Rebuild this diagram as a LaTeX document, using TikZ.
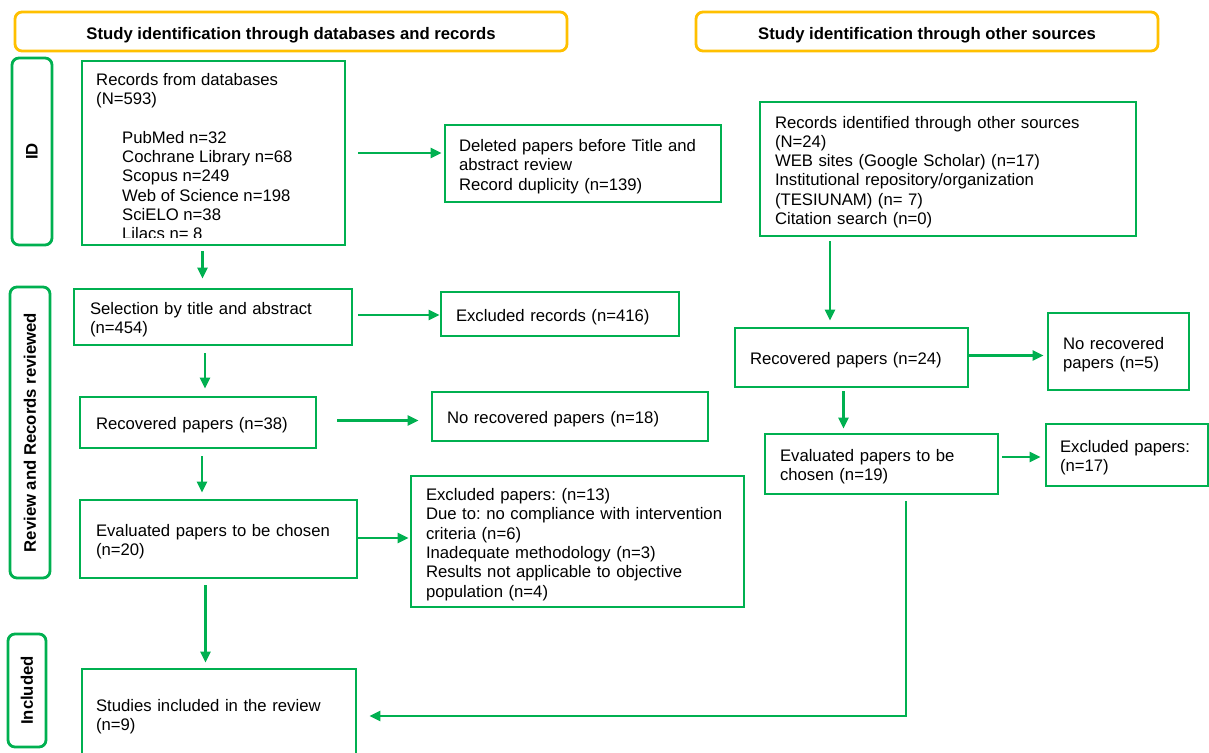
\documentclass[tikz,border=0pt]{standalone}
\usepackage{fontspec}
\setmainfont{Liberation Sans}
\usetikzlibrary{arrows.meta,calc}
\definecolor{pgreen}{RGB}{0,176,80}
\definecolor{pyellow}{RGB}{255,192,0}
\newcommand{\fsz}{\fontsize{16.7}{19.3}\selectfont\frenchspacing}
\begin{document}
\begin{tikzpicture}[x=1pt,y=-1pt,
 box/.style={draw=pgreen, line width=2.8pt, inner xsep=15pt, inner ysep=0pt, align=left, font=\fsz, execute at begin node={\rule{0pt}{18pt}}},
 hdr/.style={draw=pyellow, line width=2.8pt, rounded corners=7pt, font=\fsz\bfseries, inner sep=0pt, execute at begin node={\rule{0pt}{19pt}}},
 side/.style={draw=pgreen, line width=2.8pt, rounded corners=7pt, font=\fsz\bfseries, inner sep=0pt, rotate=90},
 arr/.style={draw=pgreen, line width=2.6pt, -{Triangle[length=11pt,width=10pt]}}]
\useasboundingbox (0,0) rectangle (1209,752);
\fill[white] (0,0) rectangle (1209,752);

% headers
\node[hdr, minimum width=552, minimum height=39] (h1) at (291,31.5) {Study identification through databases and records};
\node[hdr, minimum width=462, minimum height=39] (h2) at (927,31.5) {Study identification through other sources};

% side labels
\node[side, minimum width=187, minimum height=40] (sid) at (32,151.5) {ID};
\node[side, minimum width=291, minimum height=40] (srev) at (30,432.5) {Review and Records reviewed};
\node[side, minimum width=113, minimum height=38] (sinc) at (27,690.5) {Included};

% left column
\node[box, minimum width=263, minimum height=184, inner xsep=0pt] (db) at (213.5,153) {};
\begin{scope}
\clip (82,61) rectangle (345,237);
\node[font=\fsz, align=left, inner sep=0pt, anchor=north west] (dbt) at (96,73) {Records from databases\\(N=593)\\[19.3pt]\hspace*{26pt}PubMed n=32\\\hspace*{26pt}Cochrane Library n=68\\\hspace*{26pt}Scopus n=249\\\hspace*{26pt}Web of Science n=198\\\hspace*{26pt}SciELO n=38\\\hspace*{26pt}Lilacs n= 8};
\end{scope}

\node[box, text width=248, inner xsep=14pt, minimum height=77] (del) at (583,163.5) {Deleted papers before Title and\\abstract review\\Record duplicity (n=139)};

\node[box, text width=246, inner xsep=16pt, minimum height=56] (sel) at (213,317) {Selection by title and abstract\\(n=454)};
\node[box, text width=208, minimum height=44] (exr) at (560,314) {Excluded records (n=416)};

\node[box, text width=204, inner xsep=16pt, minimum height=51] (r38) at (198,422.5) {Recovered papers (n=38)};
\node[box, text width=246, minimum height=49] (nr18) at (570,416.5) {No recovered papers (n=18)};

\node[box, text width=245, inner xsep=16pt, minimum height=78] (ev20) at (218.5,539) {Evaluated papers to be chosen\\(n=20)};
\node[box, text width=303, minimum height=131] (ex13) at (577.5,541.5) {Excluded papers: (n=13)\\Due to: no compliance with intervention\\criteria (n=6)\\Inadequate methodology (n=3)\\Results not applicable to objective\\population (n=4)};

\node[box, text width=246, inner xsep=14pt, minimum height=89] (stu) at (219,713.5) {Studies included in the review\\(n=9)};

% right column
\node[box, text width=346, minimum height=134] (oth) at (948,169) {Records identified through other sources\\(N=24)\\WEB sites (Google Scholar) (n=17)\\Institutional repository/organization\\(TESIUNAM) (n= 7)\\Citation search (n=0)};
\node[box, text width=203, minimum height=59] (r24) at (851.5,357.5) {Recovered papers (n=24)};
\node[box, text width=111, minimum height=77] (nr5) at (1118.5,351.5) {No recovered\\papers (n=5)};
\node[box, text width=203, minimum height=60] (ev19) at (881.5,464) {Evaluated papers to be\\chosen (n=19)};
\node[box, text width=134, inner xsep=14pt, minimum height=62] (ex17) at (1127,455) {Excluded papers:\\(n=17)};

% connectors
\draw[arr] ($(db.east)+(12,0)$) -- ($(db.east -| del.west)+(-2,0)$);
\draw[arr] ($(db.south)+(-11,5)$) -- ($(db.south |- sel.north)+(-11,-9)$);
\draw[arr] ($(sel.east)+(5,-2)$) -- ($(sel.east -| exr.west)+(0,-2)$);
\draw[arr] ($(sel.south)+(-8,7)$) -- ($(sel.south |- r38.north)+(-8,-7)$);
\draw[arr] ($(r38.east)+(20,-2)$) -- ($(r38.east -| nr18.west)+(-12,-2)$);
\draw[arr] ($(r38.south)+(4,7)$) -- ($(r38.south |- ev20.north)+(4,-6)$);
\draw[arr] ($(ev20.east)+(0,-1)$) -- ($(ev20.east -| ex13.west)+(-1,-1)$);
\draw[arr] ($(ev20.south)+(-13,6)$) -- ($(ev20.south |- stu.north)+(-13,-5)$);
\draw[arr] ($(oth.south)+(-118,4)$) -- ($(oth.south |- r24.north)+(-118,-6)$);
\draw[arr] ($(r24.east)+(0,-2)$) -- ($(r24.east -| nr5.west)+(-3,-2)$);
\draw[arr] ($(r24.south)+(-8,3)$) -- ($(r24.south |- ev19.north)+(-8,-4)$);
\draw[arr] ($(ev19.east)+(3,-7)$) -- ($(ev19.east -| ex17.west)+(-4,-7)$);
\draw[arr] ($(ev19.south)+(24.5,6)$) |- ($(stu.east)+(12,2.5)$);
\end{tikzpicture}
\end{document}
